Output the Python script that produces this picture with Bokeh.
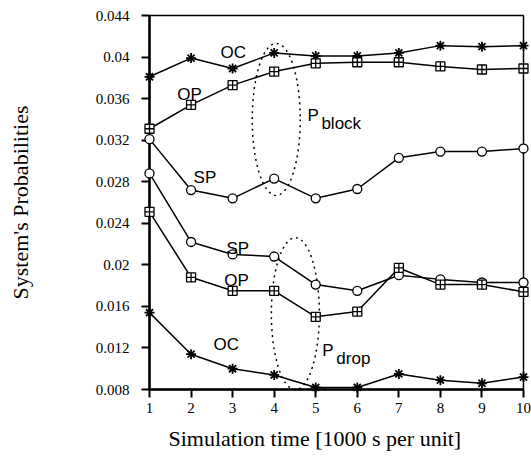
from bokeh.plotting import figure
from bokeh.models import Range1d, FixedTicker, Title
from bokeh.core.properties import value
from bokeh.embed import file_html
from bokeh.resources import INLINE

# ---- data ----
time_units = [1, 2, 3, 4, 5, 6, 7, 8, 9, 10]
oc_block = [0.0381, 0.0399, 0.0389, 0.0404, 0.0401, 0.0401, 0.0404, 0.0411, 0.0410, 0.0411]
op_block = [0.0331, 0.0354, 0.0373, 0.0386, 0.0394, 0.0395, 0.0395, 0.0391, 0.0388, 0.0389]
sp_block = [0.0321, 0.0272, 0.0264, 0.0283, 0.0264, 0.0273, 0.0303, 0.0309, 0.0309, 0.0312]
sp_drop = [0.0288, 0.0222, 0.0210, 0.0208, 0.0181, 0.0175, 0.0190, 0.0186, 0.0183, 0.0183]
op_drop = [0.0251, 0.0188, 0.0175, 0.0175, 0.0150, 0.0155, 0.0197, 0.0181, 0.0181, 0.0174]
oc_drop = [0.0154, 0.0114, 0.0100, 0.0094, 0.0082, 0.0082, 0.0095, 0.0089, 0.0086, 0.0092]

y_ticks = [0.008, 0.012, 0.016, 0.02, 0.024, 0.028, 0.032, 0.036, 0.04, 0.044]
y_tick_labels = ["0.008", "0.012", "0.016", "0.02", "0.024", "0.028", "0.032", "0.036", "0.04", "0.044"]

series_label_text = ["OC", "OP", "SP", "SP", "OP", "OC"]
series_label_x = [2.71, 1.67, 2.06, 2.85, 2.80, 2.54]
series_label_y = [0.0404, 0.0364, 0.0284, 0.0216, 0.0185, 0.0123]

group_main = ["P", "P"]
group_sub = ["block", "drop"]
group_label_x = [4.80, 5.16]
group_label_y = [0.0344, 0.0118]

ellipse_x = [4.05, 4.51]
ellipse_y = [0.0340, 0.0153]

x_title = "Simulation time [1000 s per unit]"
y_title = "System's Probabilities"

SERIF = "Liberation Serif"
SANS = "Liberation Sans"

p = figure(width=531, height=461, output_backend="svg", toolbar_location=None,
           x_range=Range1d(1, 10), y_range=Range1d(0.008, 0.044),
           min_border_left=149, min_border_right=8, min_border_top=15, min_border_bottom=72)
p.grid.visible = False
p.background_fill_color = "white"
p.border_fill_color = "white"
p.outline_line_color = "black"
p.outline_line_width = 1.5

for ax in (p.xaxis[0], p.yaxis[0]):
    ax.axis_line_width = 2.5
    ax.axis_line_color = "black"
    ax.major_tick_line_width = 2
    ax.major_tick_line_color = "black"
    ax.major_tick_out = 8
    ax.major_tick_in = 0
    ax.minor_tick_line_color = None
    ax.major_label_text_font = SERIF
    ax.major_label_text_font_size = "15px"
    ax.major_label_text_color = "black"

p.xaxis.ticker = FixedTicker(ticks=time_units)
p.xaxis.major_label_standoff = 5
p.yaxis.ticker = FixedTicker(ticks=y_ticks)
p.yaxis.major_label_overrides = {t: s for t, s in zip(y_ticks, y_tick_labels)}
p.yaxis.major_label_standoff = 12
p.yaxis.axis_label = y_title
p.yaxis.axis_label_text_font = SERIF
p.yaxis.axis_label_text_font_size = "22px"
p.yaxis.axis_label_text_font_style = "normal"
p.yaxis.axis_label_text_color = "black"
p.yaxis.axis_label_standoff = 60

p.add_layout(Title(text=x_title, align="left", offset=19, standoff=16,
                   text_font=SERIF, text_font_size="22px", text_font_style="normal",
                   text_color="black"), "below")

# ellipses marking groups
p.ellipse(x=ellipse_x, y=ellipse_y, width=48, height=152, width_units="screen",
          height_units="screen", fill_color=None, line_color="black",
          line_width=1.5, line_dash="2 4", level="overlay")

def series(vals, marker, size, lw):
    p.line(time_units, vals, line_color="black", line_width=1.5, level="overlay")
    p.scatter(time_units, vals, marker=marker, size=size, line_color="black",
              fill_color="white", line_width=lw, level="overlay")

series(oc_block, "asterisk", 10, 1.8)
series(op_block, "square_cross", 9, 1.3)
series(sp_block, "circle", 9, 1.3)
series(sp_drop, "circle", 9, 1.3)
series(op_drop, "square_cross", 9, 1.3)
series(oc_drop, "asterisk", 10, 1.8)

p.text(x=series_label_x, y=series_label_y, text=series_label_text,
       text_font=value(SANS), text_font_size="17px", text_align="left",
       text_baseline="alphabetic", text_color="black", level="overlay")
p.text(x=group_label_x, y=group_label_y, text=group_main,
       text_font=value(SANS), text_font_size="17px", text_align="left",
       text_baseline="alphabetic", text_color="black", level="overlay")
p.text(x=group_label_x, y=group_label_y, text=group_sub, x_offset=14, y_offset=8,
       text_font=value(SANS), text_font_size="17px", text_align="left",
       text_baseline="alphabetic", text_color="black", level="overlay")

open("out.html", "w").write(file_html(p, INLINE))
